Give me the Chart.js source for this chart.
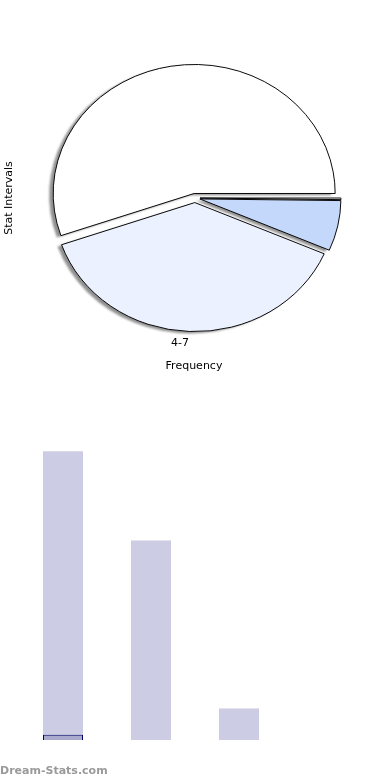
<!DOCTYPE html>
<html>
<head>
<meta charset="utf-8">
<script src="https://cdn.jsdelivr.net/npm/chart.js@4.4.1/dist/chart.umd.min.js"></script>
<style>
    html, body { margin: 0; padding: 0; background: #fff; overflow: hidden; }
    #wrap { position: relative; width: 390px; height: 780px; }
    #pieBox { position: absolute; left: 0; top: 0; width: 390px; height: 396px; }
    #barBox { position: absolute; left: 0; top: 400px; width: 390px; height: 380px; }
    #marca { position: absolute; left: 0; top: 764px; font: bold 11px "DejaVu Sans", sans-serif; color: #9a9a9a; }
</style>
</head>
<body>
<div id="wrap">
    <div id="pieBox"><canvas id="chartPie" width="390" height="396"></canvas></div>
    <div id="barBox"><canvas id="chartBarras" width="390" height="380"></canvas></div>
    <div id="marca">Dream-Stats.com</div>
</div>
<script>
// --- Datos ---
const categorias = ["0-3", "4-7", "8-11", "12-15"];
const frecuencias = [55, 38, 6, 1];              // alturas de las barras
const porcentajesPie = [55.3, 38.2, 6.3, 0.2];
const coloresPie = ["#ffffff", "#ebf1fe", "#c4d8fb", "#ffffff"];
const etiquetaVisible = "4-7";

const tituloY = "Stat Intervals";
const tituloX = "Frequency";

const ESCALA_Y = 0.915; // el pie original es una elipse
const SEPARACION = 5;   // porciones separadas del centro (px)

// el pie va en sentido horario desde las 3, en orden inverso
const pieLabels = categorias.slice().reverse();
const pieData = porcentajesPie.slice().reverse();
const pieColores = coloresPie.slice().reverse();

// desplaza cada porcion sin agrandar el radio (el offset de chart.js lo agranda)
function separar(arc) {
    if (arc._separado) return;
    const drawOrig = arc.draw;
    arc.draw = function (ctx) {
        const mid = (this.startAngle + this.endAngle) / 2;
        ctx.save();
        ctx.translate(Math.cos(mid) * SEPARACION, Math.sin(mid) * SEPARACION);
        drawOrig.call(this, ctx);
        ctx.restore();
    };
    arc._separado = true;
}

// --- Plugin: elipse + sombra ---
const elipsePlugin = {
    id: "elipse",
    beforeDatasetsDraw(chart) {
        const ctx = chart.ctx;
        const meta = chart.getDatasetMeta(0);
        meta.data.forEach(separar);
        const cx = meta.data[0].x, cy = meta.data[0].y;
        ctx.save();
        ctx.translate(cx, cy);
        ctx.scale(1, ESCALA_Y);
        ctx.translate(-cx, -cy);

        // sombra
        ctx.save();
        ctx.translate(-4, 2);
        ctx.filter = "blur(1px)";
        ctx.fillStyle = "rgba(70,70,70,0.6)";
        meta.data.forEach(a => {
            const mid = (a.startAngle + a.endAngle) / 2;
            const x = a.x + Math.cos(mid) * SEPARACION;
            const y = a.y + Math.sin(mid) * SEPARACION;
            ctx.beginPath();
            ctx.moveTo(x, y);
            ctx.arc(x, y, a.outerRadius, a.startAngle, a.endAngle);
            ctx.closePath();
            ctx.fill();
        });
        ctx.restore();
    },
    afterDatasetsDraw(chart) {
        chart.ctx.restore();
    },
    afterDraw(chart) {
        const ctx = chart.ctx;
        const meta = chart.getDatasetMeta(0);
        ctx.save();
        ctx.fillStyle = "#000";
        ctx.font = "11px 'DejaVu Sans'";
        ctx.textAlign = "center";
        ctx.textBaseline = "middle";

        // etiqueta de la porcion
        const i = pieLabels.indexOf(etiquetaVisible);
        const a = meta.data[i];
        const mid = (a.startAngle + a.endAngle) / 2;
        const r = a.outerRadius + 18;
        ctx.fillText(etiquetaVisible, a.x + Math.cos(mid) * r - 9, a.y + Math.sin(mid) * r * ESCALA_Y);

        // titulos de ejes
        ctx.fillText(tituloX, 194, 366);
        ctx.translate(9, 198);
        ctx.rotate(-Math.PI / 2);
        ctx.fillText(tituloY, 0, 0);
        ctx.restore();
    }
};

new Chart(document.getElementById("chartPie").getContext("2d"), {
    type: "pie",
    data: {
        labels: pieLabels,
        datasets: [{
            data: pieData,
            backgroundColor: pieColores,
            borderColor: "#000",
            borderWidth: 1,
            hoverOffset: 0,
            radius: 141
        }]
    },
    options: {
        responsive: false,
        animation: false,
        rotation: 90,
        layout: { padding: 0 },
        plugins: { legend: { display: false }, tooltip: { enabled: false } }
    },
    plugins: [elipsePlugin]
});

// --- Barras ---
new Chart(document.getElementById("chartBarras").getContext("2d"), {
    type: "bar",
    data: {
        labels: categorias,
        datasets: [
            {
                data: [frecuencias[0], frecuencias[1], frecuencias[2], null],
                backgroundColor: "#ccccE4",
                borderWidth: 0,
                grouped: false,
                order: 1,
                categoryPercentage: 1,
                barPercentage: 0.455
            },
            {
                // la ultima clase aparece dibujada sobre la primera
                data: [{ x: categorias[0], y: frecuencias[3] }],
                backgroundColor: "#a9a9cd",
                borderColor: "#000066",
                borderWidth: 1,
                grouped: false,
                order: 0,
                categoryPercentage: 1,
                barPercentage: 0.455
            }
        ]
    },
    options: {
        responsive: false,
        animation: false,
        layout: { padding: { left: 19, right: 19, top: 25, bottom: 40 } },
        plugins: { legend: { display: false }, tooltip: { enabled: false } },
        scales: {
            x: { display: false },
            y: { display: false, min: 0, max: 60 }
        }
    }
});
</script>
</body>
</html>
